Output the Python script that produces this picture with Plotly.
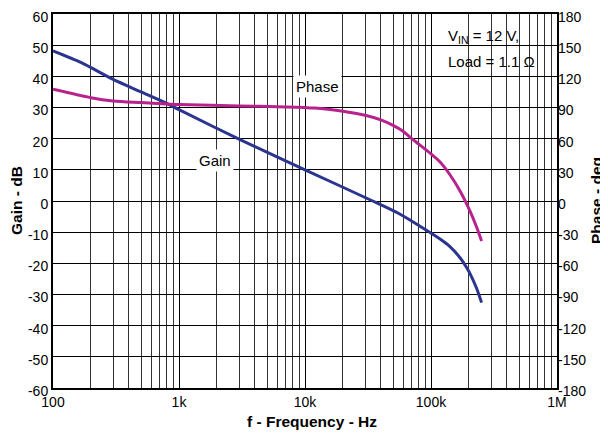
import plotly.graph_objects as go

# Gain data (frequency Hz, dB)
gain_freq = [100, 166, 200, 300, 500, 800, 1000, 3050, 10000, 32800, 56000, 81800, 118000, 140000, 170000, 190000, 204000, 230000, 252000]
gain_db = [48.2, 44.5, 42.8, 39.0, 35.0, 31.3, 29.3, 19.7, 10.0, 0.4, -4.1, -8.1, -12.2, -14.5, -18.2, -21.1, -23.3, -28.0, -32.6]

# Phase data (frequency Hz, degrees)
phase_freq = [100, 200, 300, 500, 800, 1000, 3000, 7000, 12000, 15200, 20000, 30000, 40000, 50000, 60000, 70000, 80000, 100000, 118000, 140000, 170000, 204000, 230000, 252000]
phase_deg = [107.5, 99.4, 96.3, 94.7, 93.4, 92.8, 91.5, 90.6, 89.5, 88.3, 86.4, 82.6, 78.1, 72.8, 67.2, 60.3, 54.7, 45.3, 37.5, 26.0, 9.7, -9.7, -25.0, -38.5]

x_ticks = [100, 1000, 10000, 100000, 1000000]
x_labels = ["100", "1k", "10k", "100k", "1M"]
gain_ticks = list(range(-60, 61, 10))
gain_labels = [str(v) for v in gain_ticks]
phase_ticks = list(range(-180, 181, 30))
phase_labels = [str(v) for v in phase_ticks]

FONT = "Liberation Sans, Arial, sans-serif"

# The page body has an 8px default margin, so figure coordinates are page - 8.
OFF = 8
PL, PR, PT, PB = 53 - OFF, 557 - OFF, 14 - OFF, 388 - OFF  # plot area in figure px
W, H = 608, 434

fig = go.Figure()
fig.add_trace(go.Scatter(x=gain_freq, y=gain_db, mode="lines",
                         line=dict(color="#2B3590", width=3, shape="spline", smoothing=0.8),
                         yaxis="y", showlegend=False))
fig.add_trace(go.Scatter(x=phase_freq, y=phase_deg, mode="lines",
                         line=dict(color="#B8228C", width=3, shape="spline", smoothing=0.8),
                         yaxis="y2", showlegend=False))

fig.update_layout(
    width=W, height=H,
    margin=dict(l=PL, r=W - PR, t=PT, b=H - PB),
    paper_bgcolor="white", plot_bgcolor="white",
    font=dict(family=FONT, size=14, color="black"),
    xaxis=dict(
        type="log", range=[2, 6], tickvals=x_ticks, ticktext=x_labels,
        showgrid=True, gridcolor="black", gridwidth=1,
        minor=dict(dtick="D1", showgrid=True, gridcolor="#333333", gridwidth=1, ticks=""),
        showline=True, linecolor="black", linewidth=2, mirror=True,
        ticks="", automargin=False, zeroline=False, ticklabeloverflow="allow",
    ),
    yaxis=dict(
        range=[-60, 60], tickvals=gain_ticks, ticktext=gain_labels,
        showgrid=True, gridcolor="black", gridwidth=1,
        showline=True, linecolor="black", linewidth=2, mirror=True, zeroline=False,
        ticks="", automargin=False, ticklabeloverflow="allow", ticklabelshift=3,
    ),
    yaxis2=dict(
        range=[-180, 180], tickvals=phase_ticks, ticktext=phase_labels,
        overlaying="y", side="right",
        showgrid=False, zeroline=False, ticks="", showline=False, automargin=False,
        ticklabeloverflow="allow", ticklabelshift=3,
    ),
)

pw = PR - PL
ph = PB - PT
def px_x(px):  # page px -> paper x
    return (px - OFF - PL) / pw
def px_y(py):  # page px -> paper y
    return 1 - (py - OFF - PT) / ph

# axis titles
fig.add_annotation(x=px_x(312), y=px_y(422), xref="paper", yref="paper", text="<b>f - Frequency - Hz</b>",
                   showarrow=False, xanchor="center", yanchor="middle", font=dict(size=15.5))
fig.add_annotation(x=px_x(16), y=px_y(201), xref="paper", yref="paper", text="<b>Gain - dB</b>",
                   showarrow=False, textangle=-90, xanchor="center", yanchor="middle", font=dict(size=15.5))
fig.add_annotation(x=px_x(596), y=px_y(201), xref="paper", yref="paper", text="<b>Phase - deg</b>",
                   showarrow=False, textangle=-90, xanchor="center", yanchor="middle", font=dict(size=15.5))

# in-plot labels
fig.add_annotation(x=4.10, y=36.8, xref="x", yref="y", text="Phase", showarrow=False,
                   bgcolor="white", font=dict(size=15), xanchor="center", yanchor="middle", borderpad=2)
fig.add_annotation(x=3.283, y=13.0, xref="x", yref="y", text="Gain", showarrow=False,
                   bgcolor="white", font=dict(size=15), xanchor="center", yanchor="middle", borderpad=2)

# condition box
fig.add_shape(type="rect", xref="paper", yref="paper",
              x0=px_x(433), x1=px_x(542), y0=px_y(73), y1=px_y(23),
              fillcolor="white", line=dict(width=0), layer="between")
fig.add_annotation(x=px_x(446), y=px_y(36), xref="paper", yref="paper",
                   text="V<sub>IN</sub> = 12 V,", showarrow=False, align="left",
                   font=dict(size=15), xanchor="left", yanchor="middle")
fig.add_annotation(x=px_x(446), y=px_y(61), xref="paper", yref="paper",
                   text="Load = 1.1 Ω", showarrow=False, align="left",
                   font=dict(size=15), xanchor="left", yanchor="middle")

fig.write_html("out.html")
